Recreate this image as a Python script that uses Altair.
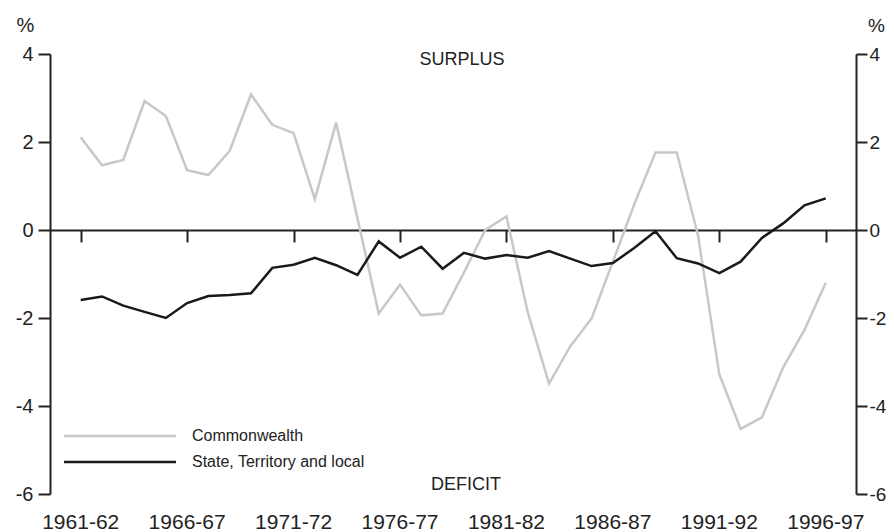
import json
import altair as alt
import pandas as pd

years = ["1961-62", "1962-63", "1963-64", "1964-65", "1965-66", "1966-67",
         "1967-68", "1968-69", "1969-70", "1970-71", "1971-72", "1972-73",
         "1973-74", "1974-75", "1975-76", "1976-77", "1977-78", "1978-79",
         "1979-80", "1980-81", "1981-82", "1982-83", "1983-84", "1984-85",
         "1985-86", "1986-87", "1987-88", "1988-89", "1989-90", "1990-91",
         "1991-92", "1992-93", "1993-94", "1994-95", "1995-96", "1996-97"]

commonwealth = [2.11, 1.47, 1.59, 2.93, 2.59, 1.36, 1.25, 1.80, 3.08, 2.39,
                2.20, 0.70, 2.44, 0.27, -1.90, -1.24, -1.94, -1.90, -0.97, 0.00,
                0.31, -1.87, -3.49, -2.64, -2.01, -0.72, 0.58, 1.76, 1.76, -0.12,
                -3.28, -4.52, -4.26, -3.12, -2.27, -1.20]

state_local = [-1.59, -1.51, -1.72, -1.86, -2.00, -1.66, -1.50, -1.48, -1.44, -0.86,
               -0.79, -0.63, -0.80, -1.02, -0.26, -0.63, -0.38, -0.88, -0.52, -0.65,
               -0.57, -0.63, -0.48, -0.65, -0.82, -0.75, -0.41, -0.03, -0.64, -0.76,
               -0.98, -0.72, -0.18, 0.15, 0.56, 0.72]

series_names = ["Commonwealth", "State, Territory and local"]
tick_index = [0, 5, 10, 15, 20, 25, 30, 35]
y_ticks = [-6, -4, -2, 0, 2, 4]

FONT = "Liberation Sans"
INK = "#222222"
GREY = "#c8c8c8"
BLACK = "#1a1a1a"

rows = []
for i, yr in enumerate(years):
    rows.append({"i": i, "year": yr, "series": series_names[0], "v": commonwealth[i]})
    rows.append({"i": i, "year": yr, "series": series_names[1], "v": state_local[i]})
df = pd.DataFrame(rows)

ticks_df = pd.DataFrame({"i": tick_index, "label": [years[k] for k in tick_index]})

xscale = alt.Scale(domain=[-1.442, 36.42], nice=False, zero=False)
yscale = alt.Scale(domain=[-6, 4], nice=False)
cscale = alt.Scale(domain=series_names, range=[GREY, BLACK])


def y_axis(orient, title_x, font_size, pad, tick):
    return alt.Axis(values=y_ticks, orient=orient, grid=False, title="%",
                    labelExpr="toString(datum.value)",
                    titleAngle=0, titleX=title_x, titleY=-29, titleAlign="center",
                    titleBaseline="middle", titleFont=FONT, titleFontSize=font_size,
                    titleFontWeight="normal", titleColor=INK,
                    labelFont=FONT, labelFontSize=font_size, labelColor=INK,
                    labelPadding=pad, tickSize=tick, tickWidth=2, tickColor=INK,
                    domainColor=INK, domainWidth=2)


# lines, with the zero-line x axis and the left y axis
lines = alt.Chart(df).mark_line(strokeWidth=2.5).encode(
    x=alt.X("i:Q", scale=xscale,
            axis=alt.Axis(values=tick_index, labels=False, grid=False, title=None,
                          offset=-264, tickSize=12, tickWidth=2, tickColor=INK,
                          domainColor=INK, domainWidth=2)),
    y=alt.Y("v:Q", scale=yscale, axis=y_axis("left", -25, 20, 5, 12)),
    color=alt.Color("series:N", scale=cscale, legend=None),
    detail="series:N",
)

# invisible layer carrying the right y axis
right_axis = alt.Chart(df).mark_line(strokeOpacity=0).encode(
    x=alt.X("i:Q", scale=xscale, axis=None),
    y=alt.Y("v:Q", scale=yscale, axis=y_axis("right", 20, 19, 2, 11)),
    detail="series:N",
)

# year labels along the bottom, placed through the x scale
year_labels = alt.Chart(ticks_df).mark_text(
    font=FONT, fontSize=21, color=INK, align="center", baseline="top"
).encode(x=alt.X("i:Q", scale=xscale, axis=None), y=alt.value(458), text="label:N")

surplus = alt.Chart(pd.DataFrame({"t": ["SURPLUS"]})).mark_text(
    font=FONT, fontSize=18, color=INK, align="center", baseline="middle"
).encode(x=alt.value(412), y=alt.value(6), text="t:N")

deficit = alt.Chart(pd.DataFrame({"t": ["DEFICIT"]})).mark_text(
    font=FONT, fontSize=18, color=INK, align="center", baseline="middle"
).encode(x=alt.value(416), y=alt.value(431), text="t:N")

leg_rule1 = alt.Chart(pd.DataFrame({"s": [series_names[0]]})).mark_rule(
    strokeWidth=2.5, color=GREY
).encode(x=alt.value(14), x2=alt.value(126), y=alt.value(382))
leg_rule2 = alt.Chart(pd.DataFrame({"s": [series_names[1]]})).mark_rule(
    strokeWidth=2.5, color=BLACK
).encode(x=alt.value(14), x2=alt.value(126), y=alt.value(408))
leg_text1 = alt.Chart(pd.DataFrame({"s": [series_names[0]]})).mark_text(
    font=FONT, fontSize=16, color=INK, align="left", baseline="middle"
).encode(x=alt.value(142), y=alt.value(382), text="s:N")
leg_text2 = alt.Chart(pd.DataFrame({"s": [series_names[1]]})).mark_text(
    font=FONT, fontSize=16, color=INK, align="left", baseline="middle"
).encode(x=alt.value(142), y=alt.value(408), text="s:N")

chart = alt.layer(
    lines, right_axis, year_labels, surplus, deficit,
    leg_rule1, leg_rule2, leg_text1, leg_text2
).resolve_axis(x="independent", y="independent").properties(
    width=806, height=440,
    padding={"left": 42, "top": 46, "right": 30, "bottom": 50},
    autosize=alt.AutoSizeParams(type="none"),
).configure_view(stroke=None)

chart.save("out.html", embed_options={"renderer": "svg", "actions": False})
